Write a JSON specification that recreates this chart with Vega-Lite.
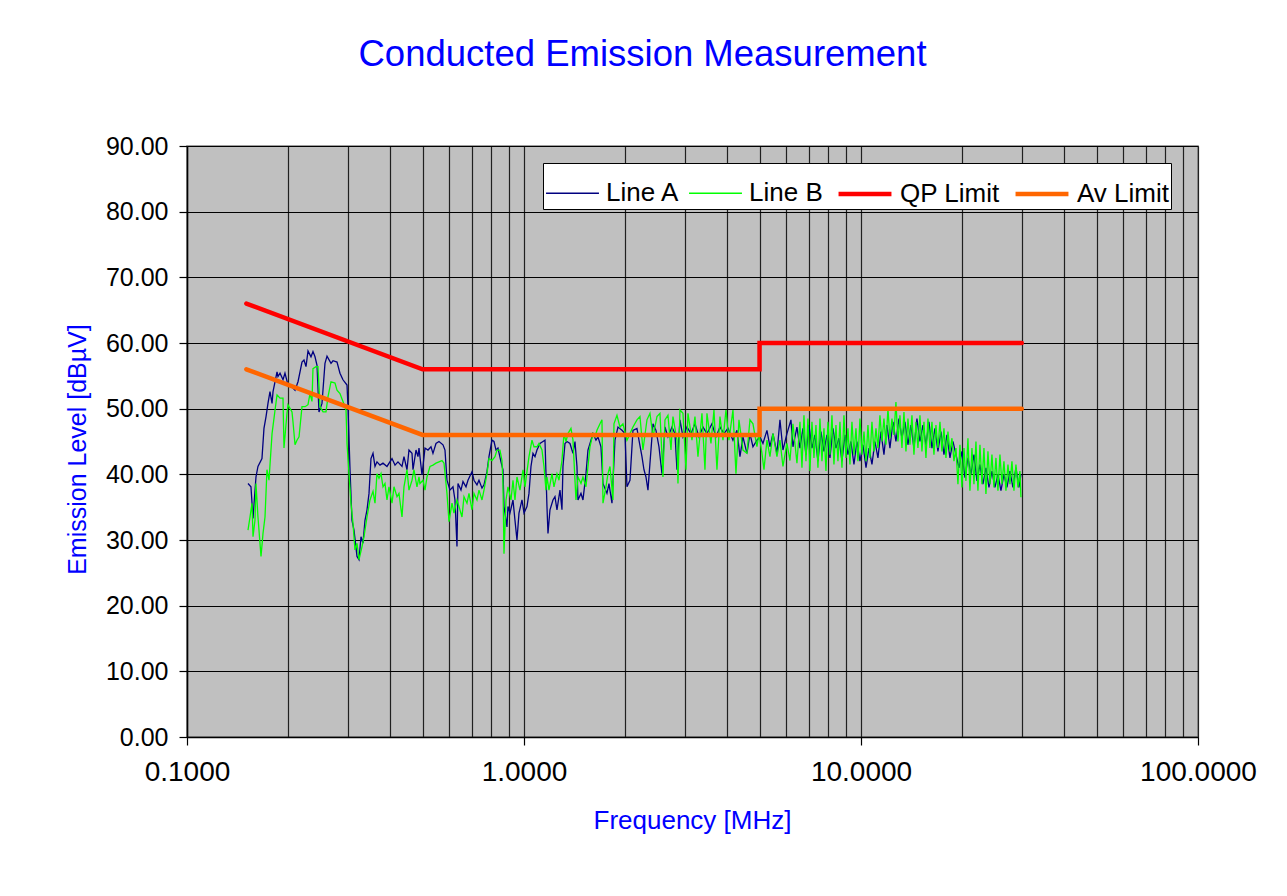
{
  "$schema": "https://vega.github.io/schema/vega-lite/v6.json",
  "autosize": {"type": "none"},
  "width": 1011,
  "height": 591,
  "padding": {"left": 187, "top": 146, "right": 89, "bottom": 159},
  "background": "white",
  "title": {"text": "Conducted Emission Measurement", "anchor": "middle", "dx": -50, "offset": 61, "fontSize": 36.5, "color": "#0000FF", "fontWeight": "normal", "font": "Liberation Sans"},
  "config": {
    "font": "Liberation Sans",
    "view": {"stroke": "#808080", "strokeWidth": 1.5, "fill": "#C0C0C0"}
  },
  "datasets": {
    "meas": [
      {"series":"Line A","freq":0.1517,"level":38.6},{"series":"Line A","freq":0.1548,"level":38.1},{"series":"Line A","freq":0.1570,"level":33.3},{"series":"Line A","freq":0.1602,"level":39.6},{"series":"Line A","freq":0.1624,"level":41.2},{"series":"Line A","freq":0.1669,"level":42.4},{"series":"Line A","freq":0.1692,"level":47.0},{"series":"Line A","freq":0.1716,"level":48.8},{"series":"Line A","freq":0.1739,"level":50.8},{"series":"Line A","freq":0.1763,"level":52.6},{"series":"Line A","freq":0.1788,"level":50.8},{"series":"Line A","freq":0.1800,"level":52.6},{"series":"Line A","freq":0.1850,"level":55.6},{"series":"Line A","freq":0.1862,"level":54.9},{"series":"Line A","freq":0.1888,"level":55.4},{"series":"Line A","freq":0.1927,"level":54.4},{"series":"Line A","freq":0.1953,"level":55.4},{"series":"Line A","freq":0.1994,"level":53.6},{"series":"Line A","freq":0.2049,"level":53.3},{"series":"Line A","freq":0.2092,"level":52.8},{"series":"Line A","freq":0.2135,"level":54.1},{"series":"Line A","freq":0.2194,"level":57.1},{"series":"Line A","freq":0.2224,"level":57.4},{"series":"Line A","freq":0.2255,"level":56.4},{"series":"Line A","freq":0.2286,"level":58.8},{"series":"Line A","freq":0.2333,"level":57.9},{"series":"Line A","freq":0.2365,"level":58.7},{"series":"Line A","freq":0.2398,"level":57.9},{"series":"Line A","freq":0.2431,"level":56.6},{"series":"Line A","freq":0.2464,"level":49.5},{"series":"Line A","freq":0.2515,"level":50.8},{"series":"Line A","freq":0.2567,"level":56.9},{"series":"Line A","freq":0.2603,"level":58.0},{"series":"Line A","freq":0.2675,"level":56.9},{"series":"Line A","freq":0.2712,"level":57.3},{"series":"Line A","freq":0.2787,"level":57.1},{"series":"Line A","freq":0.2844,"level":55.4},{"series":"Line A","freq":0.2903,"level":54.4},{"series":"Line A","freq":0.2984,"level":53.6},{"series":"Line A","freq":0.3004,"level":50.3},{"series":"Line A","freq":0.3046,"level":40.7},{"series":"Line A","freq":0.3087,"level":33.0},{"series":"Line A","freq":0.3130,"level":31.5},{"series":"Line A","freq":0.3195,"level":27.5},{"series":"Line A","freq":0.3239,"level":27.0},{"series":"Line A","freq":0.3283,"level":30.5},{"series":"Line A","freq":0.3328,"level":29.5},{"series":"Line A","freq":0.3374,"level":33.0},{"series":"Line A","freq":0.3421,"level":34.6},{"series":"Line A","freq":0.3468,"level":37.1},{"series":"Line A","freq":0.3515,"level":42.4},{"series":"Line A","freq":0.3564,"level":43.2},{"series":"Line A","freq":0.3613,"level":41.2},{"series":"Line A","freq":0.3662,"level":41.9},{"series":"Line A","freq":0.3738,"level":41.4},{"series":"Line A","freq":0.3816,"level":41.7},{"series":"Line A","freq":0.3921,"level":41.2},{"series":"Line A","freq":0.4058,"level":42.4},{"series":"Line A","freq":0.4142,"level":41.4},{"series":"Line A","freq":0.4227,"level":41.9},{"series":"Line A","freq":0.4345,"level":41.2},{"series":"Line A","freq":0.4404,"level":42.7},{"series":"Line A","freq":0.4496,"level":40.7},{"series":"Line A","freq":0.4557,"level":43.7},{"series":"Line A","freq":0.4652,"level":43.2},{"series":"Line A","freq":0.4684,"level":40.7},{"series":"Line A","freq":0.4781,"level":43.7},{"series":"Line A","freq":0.4846,"level":42.7},{"series":"Line A","freq":0.4880,"level":44.0},{"series":"Line A","freq":0.4981,"level":39.9},{"series":"Line A","freq":0.5084,"level":44.0},{"series":"Line A","freq":0.5189,"level":43.7},{"series":"Line A","freq":0.5297,"level":44.2},{"series":"Line A","freq":0.5369,"level":43.2},{"series":"Line A","freq":0.5481,"level":44.7},{"series":"Line A","freq":0.5594,"level":45.0},{"series":"Line A","freq":0.5749,"level":44.5},{"series":"Line A","freq":0.5828,"level":43.7},{"series":"Line A","freq":0.5908,"level":39.1},{"series":"Line A","freq":0.6031,"level":37.6},{"series":"Line A","freq":0.6156,"level":38.1},{"series":"Line A","freq":0.6240,"level":36.1},{"series":"Line A","freq":0.6326,"level":29.0},{"series":"Line A","freq":0.6369,"level":38.6},{"series":"Line A","freq":0.6501,"level":37.6},{"series":"Line A","freq":0.6591,"level":38.9},{"series":"Line A","freq":0.6728,"level":38.1},{"series":"Line A","freq":0.6820,"level":39.1},{"series":"Line A","freq":0.7009,"level":40.4},{"series":"Line A","freq":0.7105,"level":39.1},{"series":"Line A","freq":0.7252,"level":38.4},{"series":"Line A","freq":0.7352,"level":39.1},{"series":"Line A","freq":0.7505,"level":37.9},{"series":"Line A","freq":0.7608,"level":38.4},{"series":"Line A","freq":0.7765,"level":40.4},{"series":"Line A","freq":0.7872,"level":42.7},{"series":"Line A","freq":0.8035,"level":45.2},{"series":"Line A","freq":0.8146,"level":45.0},{"series":"Line A","freq":0.8258,"level":43.7},{"series":"Line A","freq":0.8371,"level":44.0},{"series":"Line A","freq":0.8545,"level":41.9},{"series":"Line A","freq":0.8662,"level":40.7},{"series":"Line A","freq":0.8722,"level":35.1},{"series":"Line A","freq":0.8902,"level":32.0},{"series":"Line A","freq":0.8963,"level":35.1},{"series":"Line A","freq":0.9086,"level":34.1},{"series":"Line A","freq":0.9275,"level":36.1},{"series":"Line A","freq":0.9402,"level":33.0},{"series":"Line A","freq":0.9531,"level":30.0},{"series":"Line A","freq":0.9663,"level":34.1},{"series":"Line A","freq":0.9863,"level":36.1},{"series":"Line A","freq":1.0000,"level":34.1},{"series":"Line A","freq":1.0205,"level":35.1},{"series":"Line A","freq":1.0346,"level":37.1},{"series":"Line A","freq":1.0488,"level":41.2},{"series":"Line A","freq":1.0633,"level":43.2},{"series":"Line A","freq":1.0779,"level":42.7},{"series":"Line A","freq":1.0927,"level":43.7},{"series":"Line A","freq":1.1153,"level":44.7},{"series":"Line A","freq":1.1384,"level":45.0},{"series":"Line A","freq":1.1541,"level":45.2},{"series":"Line A","freq":1.1699,"level":35.1},{"series":"Line A","freq":1.1780,"level":31.0},{"series":"Line A","freq":1.1942,"level":34.6},{"series":"Line A","freq":1.2189,"level":36.1},{"series":"Line A","freq":1.2357,"level":36.6},{"series":"Line A","freq":1.2527,"level":34.6},{"series":"Line A","freq":1.2786,"level":37.6},{"series":"Line A","freq":1.2962,"level":34.6},{"series":"Line A","freq":1.3051,"level":41.2},{"series":"Line A","freq":1.3231,"level":44.7},{"series":"Line A","freq":1.3412,"level":45.0},{"series":"Line A","freq":1.3690,"level":44.7},{"series":"Line A","freq":1.3974,"level":43.2},{"series":"Line A","freq":1.4167,"level":45.0},{"series":"Line A","freq":1.4361,"level":41.2},{"series":"Line A","freq":1.4459,"level":36.1},{"series":"Line A","freq":1.4759,"level":37.1},{"series":"Line A","freq":1.4962,"level":36.1},{"series":"Line A","freq":1.5273,"level":40.1},{"series":"Line A","freq":1.5482,"level":43.7},{"series":"Line A","freq":1.5803,"level":45.2},{"series":"Line A","freq":1.6020,"level":46.2},{"series":"Line A","freq":1.6352,"level":45.2},{"series":"Line A","freq":1.6576,"level":45.7},{"series":"Line A","freq":1.6920,"level":44.2},{"series":"Line A","freq":1.7153,"level":38.6},{"series":"Line A","freq":1.7628,"level":37.1},{"series":"Line A","freq":1.7870,"level":38.6},{"series":"Line A","freq":1.8241,"level":35.6},{"series":"Line A","freq":1.8619,"level":45.2},{"series":"Line A","freq":1.9003,"level":47.2},{"series":"Line A","freq":1.9530,"level":46.7},{"series":"Line A","freq":1.9935,"level":46.2},{"series":"Line A","freq":2.0209,"level":38.1},{"series":"Line A","freq":2.0627,"level":39.1},{"series":"Line A","freq":2.1054,"level":46.7},{"series":"Line A","freq":2.1637,"level":47.0},{"series":"Line A","freq":2.1935,"level":45.2},{"series":"Line A","freq":2.2390,"level":42.7},{"series":"Line A","freq":2.2698,"level":40.7},{"series":"Line A","freq":2.3011,"level":39.6},{"series":"Line A","freq":2.3326,"level":37.6},{"series":"Line A","freq":2.3648,"level":41.7},{"series":"Line A","freq":2.4138,"level":47.7},{"series":"Line A","freq":2.4638,"level":46.7},{"series":"Line A","freq":2.5147,"level":44.2},{"series":"Line A","freq":2.5668,"level":40.1},{"series":"Line A","freq":2.6200,"level":47.2},{"series":"Line A","freq":2.6742,"level":45.7},{"series":"Line A","freq":2.7483,"level":47.2},{"series":"Line A","freq":2.8053,"level":46.2},{"series":"Line A","freq":2.8438,"level":40.7},{"series":"Line A","freq":2.9027,"level":48.3},{"series":"Line A","freq":2.9628,"level":45.7},{"series":"Line A","freq":3.0448,"level":47.2},{"series":"Line A","freq":3.1293,"level":46.2},{"series":"Line A","freq":3.2160,"level":47.7},{"series":"Line A","freq":3.3050,"level":45.7},{"series":"Line A","freq":3.3967,"level":47.2},{"series":"Line A","freq":3.4906,"level":46.2},{"series":"Line A","freq":3.6120,"level":47.7},{"series":"Line A","freq":3.7122,"level":45.7},{"series":"Line A","freq":3.8149,"level":47.2},{"series":"Line A","freq":3.9207,"level":46.2},{"series":"Line A","freq":4.0292,"level":47.0},{"series":"Line A","freq":4.1693,"level":45.2},{"series":"Line A","freq":4.2847,"level":46.7},{"series":"Line A","freq":4.3735,"level":42.7},{"series":"Line A","freq":4.4641,"level":45.7},{"series":"Line A","freq":4.5877,"level":43.2},{"series":"Line A","freq":4.6828,"level":46.2},{"series":"Line A","freq":4.7798,"level":44.2},{"series":"Line A","freq":4.9120,"level":45.2},{"series":"Line A","freq":5.0139,"level":45.7},{"series":"Line A","freq":5.1177,"level":44.7},{"series":"Line A","freq":5.2594,"level":46.7},{"series":"Line A","freq":5.3684,"level":44.2},{"series":"Line A","freq":5.4796,"level":46.2},{"series":"Line A","freq":5.6312,"level":43.2},{"series":"Line A","freq":5.7480,"level":48.3},{"series":"Line A","freq":5.8671,"level":43.7},{"series":"Line A","freq":6.0294,"level":46.2},{"series":"Line A","freq":6.1966,"level":48.3},{"series":"Line A","freq":6.2819,"level":44.2},{"series":"Line A","freq":6.4557,"level":47.2},
      {"series":"Line A","freq":6.5896,"level":44},{"series":"Line A","freq":6.7261,"level":47},{"series":"Line A","freq":6.8656,"level":43},{"series":"Line A","freq":7.0074,"level":47.5},{"series":"Line A","freq":7.1526,"level":44},{"series":"Line A","freq":7.3009,"level":46},{"series":"Line A","freq":7.4517,"level":42},{"series":"Line A","freq":7.6062,"level":46.5},{"series":"Line A","freq":7.7639,"level":43.5},{"series":"Line A","freq":7.9243,"level":46},{"series":"Line A","freq":8.0885,"level":42.5},{"series":"Line A","freq":8.2561,"level":47},{"series":"Line A","freq":8.4273,"level":44},{"series":"Line A","freq":8.6014,"level":45.5},{"series":"Line A","freq":8.7797,"level":42},{"series":"Line A","freq":8.9617,"level":46},{"series":"Line A","freq":9.1468,"level":43},{"series":"Line A","freq":9.3364,"level":45},{"series":"Line A","freq":9.5299,"level":41.5},{"series":"Line A","freq":9.7269,"level":45},{"series":"Line A","freq":9.9285,"level":42},{"series":"Line A","freq":10.138,"level":44.5},{"series":"Line A","freq":10.348,"level":41},{"series":"Line A","freq":10.558,"level":44},{"series":"Line A","freq":10.777,"level":41.5},{"series":"Line A","freq":11.000,"level":45},{"series":"Line A","freq":11.227,"level":42.5},{"series":"Line A","freq":11.460,"level":46.5},{"series":"Line A","freq":11.698,"level":43},{"series":"Line A","freq":11.939,"level":47.5},{"series":"Line A","freq":12.187,"level":44},{"series":"Line A","freq":12.439,"level":48},{"series":"Line A","freq":12.697,"level":45},{"series":"Line A","freq":12.960,"level":48.5},{"series":"Line A","freq":13.229,"level":45.5},{"series":"Line A","freq":13.503,"level":48},{"series":"Line A","freq":13.782,"level":44.5},{"series":"Line A","freq":14.068,"level":47.5},{"series":"Line A","freq":14.359,"level":44},{"series":"Line A","freq":14.656,"level":48.5},{"series":"Line A","freq":14.960,"level":45},{"series":"Line A","freq":15.270,"level":47.5},{"series":"Line A","freq":15.586,"level":44.5},{"series":"Line A","freq":15.908,"level":48},{"series":"Line A","freq":16.238,"level":44},{"series":"Line A","freq":16.574,"level":47},{"series":"Line A","freq":16.917,"level":43.5},{"series":"Line A","freq":17.268,"level":46.5},{"series":"Line A","freq":17.626,"level":43},{"series":"Line A","freq":17.990,"level":46},{"series":"Line A","freq":18.363,"level":42.5},{"series":"Line A","freq":18.743,"level":45},{"series":"Line A","freq":19.132,"level":43},{"series":"Line A","freq":19.527,"level":41},{"series":"Line A","freq":19.932,"level":43.5},{"series":"Line A","freq":20.345,"level":39.5},{"series":"Line A","freq":20.765,"level":42.5},{"series":"Line A","freq":21.196,"level":40},{"series":"Line A","freq":21.635,"level":43},{"series":"Line A","freq":22.082,"level":39},{"series":"Line A","freq":22.540,"level":41.5},{"series":"Line A","freq":23.007,"level":38.5},{"series":"Line A","freq":23.483,"level":41},{"series":"Line A","freq":23.970,"level":38},{"series":"Line A","freq":24.466,"level":40.5},{"series":"Line A","freq":24.973,"level":38},{"series":"Line A","freq":25.490,"level":40},{"series":"Line A","freq":26.018,"level":37.5},{"series":"Line A","freq":26.557,"level":40},{"series":"Line A","freq":27.106,"level":38},{"series":"Line A","freq":27.668,"level":40.5},{"series":"Line A","freq":28.241,"level":38},{"series":"Line A","freq":28.826,"level":41},{"series":"Line A","freq":29.422,"level":38},{"series":"Line A","freq":29.827,"level":40},
      {"series":"Line B","freq":0.1517,"level":31.5},{"series":"Line B","freq":0.1538,"level":33.5},{"series":"Line B","freq":0.1559,"level":35.6},{"series":"Line B","freq":0.1570,"level":30.5},{"series":"Line B","freq":0.1591,"level":33.0},{"series":"Line B","freq":0.1602,"level":38.6},{"series":"Line B","freq":0.1624,"level":33.5},{"series":"Line B","freq":0.1658,"level":27.5},{"series":"Line B","freq":0.1681,"level":31.0},{"series":"Line B","freq":0.1704,"level":33.5},{"series":"Line B","freq":0.1727,"level":40.7},{"series":"Line B","freq":0.1751,"level":39.1},{"series":"Line B","freq":0.1788,"level":46.2},{"series":"Line B","freq":0.1825,"level":49.8},{"series":"Line B","freq":0.1850,"level":52.1},{"series":"Line B","freq":0.1888,"level":51.6},{"series":"Line B","freq":0.1927,"level":51.6},{"series":"Line B","freq":0.1940,"level":44.0},{"series":"Line B","freq":0.1980,"level":49.3},{"series":"Line B","freq":0.1994,"level":50.6},{"series":"Line B","freq":0.2049,"level":49.5},{"series":"Line B","freq":0.2063,"level":48.0},{"series":"Line B","freq":0.2092,"level":44.5},{"series":"Line B","freq":0.2120,"level":45.2},{"series":"Line B","freq":0.2150,"level":45.7},{"series":"Line B","freq":0.2194,"level":50.3},{"series":"Line B","freq":0.2240,"level":50.3},{"series":"Line B","freq":0.2286,"level":50.6},{"series":"Line B","freq":0.2317,"level":52.3},{"series":"Line B","freq":0.2349,"level":51.1},{"series":"Line B","freq":0.2365,"level":56.1},{"series":"Line B","freq":0.2414,"level":56.4},{"series":"Line B","freq":0.2447,"level":56.4},{"series":"Line B","freq":0.2481,"level":50.3},{"series":"Line B","freq":0.2533,"level":49.5},{"series":"Line B","freq":0.2585,"level":49.5},{"series":"Line B","freq":0.2620,"level":51.8},{"series":"Line B","freq":0.2675,"level":54.1},{"series":"Line B","freq":0.2749,"level":53.9},{"series":"Line B","freq":0.2787,"level":52.8},{"series":"Line B","freq":0.2844,"level":52.3},{"series":"Line B","freq":0.2903,"level":51.1},{"series":"Line B","freq":0.2964,"level":49.8},{"series":"Line B","freq":0.2984,"level":44.7},{"series":"Line B","freq":0.3025,"level":40.1},{"series":"Line B","freq":0.3066,"level":35.6},{"series":"Line B","freq":0.3109,"level":32.5},{"series":"Line B","freq":0.3151,"level":28.5},{"series":"Line B","freq":0.3195,"level":29.5},{"series":"Line B","freq":0.3239,"level":27.0},{"series":"Line B","freq":0.3306,"level":29.0},{"series":"Line B","freq":0.3351,"level":30.5},{"series":"Line B","freq":0.3421,"level":33.5},{"series":"Line B","freq":0.3491,"level":36.1},{"series":"Line B","freq":0.3564,"level":37.4},{"series":"Line B","freq":0.3613,"level":35.6},{"series":"Line B","freq":0.3662,"level":40.1},{"series":"Line B","freq":0.3713,"level":39.4},{"series":"Line B","freq":0.3764,"level":40.1},{"series":"Line B","freq":0.3816,"level":38.1},{"series":"Line B","freq":0.3868,"level":38.6},{"series":"Line B","freq":0.3921,"level":36.1},{"series":"Line B","freq":0.3975,"level":38.1},{"series":"Line B","freq":0.4058,"level":35.6},{"series":"Line B","freq":0.4113,"level":38.1},{"series":"Line B","freq":0.4199,"level":36.6},{"series":"Line B","freq":0.4256,"level":37.1},{"series":"Line B","freq":0.4345,"level":33.5},{"series":"Line B","freq":0.4404,"level":38.1},{"series":"Line B","freq":0.4496,"level":40.7},{"series":"Line B","freq":0.4557,"level":37.6},{"series":"Line B","freq":0.4652,"level":39.1},{"series":"Line B","freq":0.4716,"level":40.7},{"series":"Line B","freq":0.4813,"level":38.1},{"series":"Line B","freq":0.4880,"level":39.6},{"series":"Line B","freq":0.4913,"level":38.6},{"series":"Line B","freq":0.5015,"level":39.1},{"series":"Line B","freq":0.5084,"level":37.6},{"series":"Line B","freq":0.5154,"level":39.6},{"series":"Line B","freq":0.5260,"level":41.2},{"series":"Line B","freq":0.5369,"level":41.4},{"series":"Line B","freq":0.5481,"level":41.7},{"series":"Line B","freq":0.5594,"level":41.9},{"series":"Line B","freq":0.5710,"level":42.1},{"series":"Line B","freq":0.5789,"level":41.7},{"series":"Line B","freq":0.5908,"level":37.1},{"series":"Line B","freq":0.5990,"level":32.8},{"series":"Line B","freq":0.6114,"level":35.6},{"series":"Line B","freq":0.6198,"level":34.1},{"series":"Line B","freq":0.6326,"level":36.1},{"series":"Line B","freq":0.6413,"level":35.1},{"series":"Line B","freq":0.6546,"level":33.5},{"series":"Line B","freq":0.6636,"level":36.6},{"series":"Line B","freq":0.6773,"level":35.6},{"series":"Line B","freq":0.6867,"level":37.1},{"series":"Line B","freq":0.7009,"level":34.6},{"series":"Line B","freq":0.7105,"level":37.1},{"series":"Line B","freq":0.7252,"level":36.1},{"series":"Line B","freq":0.7352,"level":37.6},{"series":"Line B","freq":0.7505,"level":36.1},{"series":"Line B","freq":0.7608,"level":37.6},{"series":"Line B","freq":0.7765,"level":40.1},{"series":"Line B","freq":0.7872,"level":42.4},{"series":"Line B","freq":0.8035,"level":42.1},{"series":"Line B","freq":0.8202,"level":42.7},{"series":"Line B","freq":0.8314,"level":43.7},{"series":"Line B","freq":0.8486,"level":43.7},{"series":"Line B","freq":0.8603,"level":42.1},{"series":"Line B","freq":0.8662,"level":38.6},{"series":"Line B","freq":0.8722,"level":27.9},{"series":"Line B","freq":0.8842,"level":36.1},{"series":"Line B","freq":0.8963,"level":38.1},{"series":"Line B","freq":0.9149,"level":36.1},{"series":"Line B","freq":0.9275,"level":39.1},{"series":"Line B","freq":0.9402,"level":36.1},{"series":"Line B","freq":0.9531,"level":39.6},{"series":"Line B","freq":0.9729,"level":37.6},{"series":"Line B","freq":0.9931,"level":40.7},{"series":"Line B","freq":1.0069,"level":38.1},{"series":"Line B","freq":1.0205,"level":40.4},{"series":"Line B","freq":1.0346,"level":42.7},{"series":"Line B","freq":1.0560,"level":45.2},{"series":"Line B","freq":1.0706,"level":44.2},{"series":"Line B","freq":1.0927,"level":44.2},{"series":"Line B","freq":1.1077,"level":44.7},{"series":"Line B","freq":1.1307,"level":43.7},{"series":"Line B","freq":1.1463,"level":41.2},{"series":"Line B","freq":1.1621,"level":37.6},{"series":"Line B","freq":1.1699,"level":39.6},{"series":"Line B","freq":1.1861,"level":37.6},{"series":"Line B","freq":1.2106,"level":40.1},{"series":"Line B","freq":1.2273,"level":38.1},{"series":"Line B","freq":1.2527,"level":40.1},{"series":"Line B","freq":1.2699,"level":39.1},{"series":"Line B","freq":1.2962,"level":42.1},{"series":"Line B","freq":1.3141,"level":46.2},{"series":"Line B","freq":1.3322,"level":45.0},{"series":"Line B","freq":1.3504,"level":46.2},{"series":"Line B","freq":1.3784,"level":47.0},{"series":"Line B","freq":1.3974,"level":45.2},{"series":"Line B","freq":1.4264,"level":36.1},{"series":"Line B","freq":1.4459,"level":39.6},{"series":"Line B","freq":1.4759,"level":38.6},{"series":"Line B","freq":1.4962,"level":39.6},{"series":"Line B","freq":1.5273,"level":38.1},{"series":"Line B","freq":1.5482,"level":41.2},{"series":"Line B","freq":1.5695,"level":44.2},{"series":"Line B","freq":1.6020,"level":46.2},{"series":"Line B","freq":1.6241,"level":45.7},{"series":"Line B","freq":1.6463,"level":46.7},{"series":"Line B","freq":1.6805,"level":47.7},{"series":"Line B","freq":1.7036,"level":48.3},{"series":"Line B","freq":1.7153,"level":35.6},{"series":"Line B","freq":1.7509,"level":38.1},{"series":"Line B","freq":1.7748,"level":40.1},{"series":"Line B","freq":1.7993,"level":41.2},{"series":"Line B","freq":1.8366,"level":36.1},{"series":"Line B","freq":1.8492,"level":47.7},{"series":"Line B","freq":1.8874,"level":49.0},{"series":"Line B","freq":1.9265,"level":47.2},{"series":"Line B","freq":1.9665,"level":47.7},{"series":"Line B","freq":2.0209,"level":45.2},{"series":"Line B","freq":2.0627,"level":46.2},{"series":"Line B","freq":2.1054,"level":47.2},{"series":"Line B","freq":2.1637,"level":48.3},{"series":"Line B","freq":2.2086,"level":48.8},{"series":"Line B","freq":2.2544,"level":43.7},{"series":"Line B","freq":2.3167,"level":48.3},{"series":"Line B","freq":2.3648,"level":49.3},{"series":"Line B","freq":2.4138,"level":45.7},{"series":"Line B","freq":2.4806,"level":48.8},{"series":"Line B","freq":2.5320,"level":49.3},{"series":"Line B","freq":2.5844,"level":39.6},{"series":"Line B","freq":2.6200,"level":48.3},{"series":"Line B","freq":2.6742,"level":49.0},{"series":"Line B","freq":2.7296,"level":43.7},{"series":"Line B","freq":2.7672,"level":48.8},{"series":"Line B","freq":2.8438,"level":45.2},{"series":"Line B","freq":2.8633,"level":38.6},{"series":"Line B","freq":2.9027,"level":49.8},{"series":"Line B","freq":2.9628,"level":49.3},{"series":"Line B","freq":3.0243,"level":40.7},{"series":"Line B","freq":3.0657,"level":49.3},{"series":"Line B","freq":3.1507,"level":45.2},{"series":"Line B","freq":3.2160,"level":48.8},{"series":"Line B","freq":3.2825,"level":42.7},{"series":"Line B","freq":3.3735,"level":49.3},{"series":"Line B","freq":3.4434,"level":40.7},{"series":"Line B","freq":3.4906,"level":49.3},{"series":"Line B","freq":3.5874,"level":44.7},{"series":"Line B","freq":3.6618,"level":49.8},{"series":"Line B","freq":3.7375,"level":40.7},{"series":"Line B","freq":3.8149,"level":48.8},{"series":"Line B","freq":3.8940,"level":45.2},{"series":"Line B","freq":3.9747,"level":49.8},{"series":"Line B","freq":4.0568,"level":45.2},{"series":"Line B","freq":4.1693,"level":49.8},{"series":"Line B","freq":4.2558,"level":40.1},{"series":"Line B","freq":4.3437,"level":48.3},{"series":"Line B","freq":4.4641,"level":43.7},{"series":"Line B","freq":4.5877,"level":43.2},{"series":"Line B","freq":4.6828,"level":48.3},{"series":"Line B","freq":4.7798,"level":47.7},{"series":"Line B","freq":4.9120,"level":44.2},{"series":"Line B","freq":4.9797,"level":46.2},{"series":"Line B","freq":5.0829,"level":43.2},{"series":"Line B","freq":5.1529,"level":40.7},{"series":"Line B","freq":5.2594,"level":45.2},{"series":"Line B","freq":5.3684,"level":42.7},{"series":"Line B","freq":5.4796,"level":46.2},{"series":"Line B","freq":5.6312,"level":42.7},{"series":"Line B","freq":5.7480,"level":45.2},{"series":"Line B","freq":5.8671,"level":41.2},{"series":"Line B","freq":6.0294,"level":44.7},{"series":"Line B","freq":6.1544,"level":42.1},{"series":"Line B","freq":6.2819,"level":47.7},{"series":"Line B","freq":6.4557,"level":41.7},
      {"series":"Line B","freq":6.5896,"level":48},{"series":"Line B","freq":6.6803,"level":41},{"series":"Line B","freq":6.7723,"level":49},{"series":"Line B","freq":6.8656,"level":42},{"series":"Line B","freq":6.9596,"level":48.5},{"series":"Line B","freq":7.0555,"level":40.5},{"series":"Line B","freq":7.1526,"level":48},{"series":"Line B","freq":7.2511,"level":42.5},{"series":"Line B","freq":7.3510,"level":47.5},{"series":"Line B","freq":7.4517,"level":41},{"series":"Line B","freq":7.5544,"level":48.5},{"series":"Line B","freq":7.6584,"level":42},{"series":"Line B","freq":7.7639,"level":47},{"series":"Line B","freq":7.8708,"level":40.5},{"series":"Line B","freq":7.9786,"level":48},{"series":"Line B","freq":8.0885,"level":43},{"series":"Line B","freq":8.1999,"level":49},{"series":"Line B","freq":8.3128,"level":41.5},{"series":"Line B","freq":8.4273,"level":47.5},{"series":"Line B","freq":8.5428,"level":42},{"series":"Line B","freq":8.6605,"level":48},{"series":"Line B","freq":8.7797,"level":41},{"series":"Line B","freq":8.9005,"level":49},{"series":"Line B","freq":9.0231,"level":42.5},{"series":"Line B","freq":9.1468,"level":47},{"series":"Line B","freq":9.2728,"level":41.5},{"series":"Line B","freq":9.4005,"level":48},{"series":"Line B","freq":9.5299,"level":43},{"series":"Line B","freq":9.6612,"level":47},{"series":"Line B","freq":9.7936,"level":42},{"series":"Line B","freq":9.9285,"level":48.5},{"series":"Line B","freq":10.069,"level":43},{"series":"Line B","freq":10.207,"level":46.5},{"series":"Line B","freq":10.348,"level":42},{"series":"Line B","freq":10.486,"level":47.5},{"series":"Line B","freq":10.630,"level":42.5},{"series":"Line B","freq":10.777,"level":48},{"series":"Line B","freq":10.925,"level":43.5},{"series":"Line B","freq":11.076,"level":47},{"series":"Line B","freq":11.227,"level":44},{"series":"Line B","freq":11.382,"level":49},{"series":"Line B","freq":11.539,"level":45},{"series":"Line B","freq":11.698,"level":48.5},{"series":"Line B","freq":11.859,"level":44.5},{"series":"Line B","freq":12.021,"level":50},{"series":"Line B","freq":12.187,"level":45.5},{"series":"Line B","freq":12.354,"level":48.5},{"series":"Line B","freq":12.524,"level":46},{"series":"Line B","freq":12.697,"level":51},{"series":"Line B","freq":12.872,"level":45},{"series":"Line B","freq":13.049,"level":49},{"series":"Line B","freq":13.229,"level":44},{"series":"Line B","freq":13.411,"level":49.5},{"series":"Line B","freq":13.596,"level":43.5},{"series":"Line B","freq":13.782,"level":48.5},{"series":"Line B","freq":13.972,"level":44.5},{"series":"Line B","freq":14.164,"level":49},{"series":"Line B","freq":14.359,"level":43},{"series":"Line B","freq":14.557,"level":48},{"series":"Line B","freq":14.757,"level":44},{"series":"Line B","freq":14.960,"level":49},{"series":"Line B","freq":15.166,"level":43.5},{"series":"Line B","freq":15.375,"level":48},{"series":"Line B","freq":15.586,"level":42.5},{"series":"Line B","freq":15.800,"level":48.5},{"series":"Line B","freq":16.017,"level":44},{"series":"Line B","freq":16.238,"level":48},{"series":"Line B","freq":16.461,"level":43},{"series":"Line B","freq":16.688,"level":47.5},{"series":"Line B","freq":16.917,"level":44},{"series":"Line B","freq":17.150,"level":48},{"series":"Line B","freq":17.386,"level":43.5},{"series":"Line B","freq":17.626,"level":47},{"series":"Line B","freq":17.868,"level":42.5},{"series":"Line B","freq":18.113,"level":46.5},{"series":"Line B","freq":18.363,"level":43.5},{"series":"Line B","freq":18.616,"level":45.5},{"series":"Line B","freq":18.872,"level":42},{"series":"Line B","freq":19.132,"level":44},{"series":"Line B","freq":19.394,"level":38.5},{"series":"Line B","freq":19.661,"level":44.5},{"series":"Line B","freq":19.932,"level":38},{"series":"Line B","freq":20.206,"level":44},{"series":"Line B","freq":20.485,"level":39},{"series":"Line B","freq":20.765,"level":45.5},{"series":"Line B","freq":21.052,"level":37.5},{"series":"Line B","freq":21.341,"level":44},{"series":"Line B","freq":21.635,"level":38.5},{"series":"Line B","freq":21.934,"level":45},{"series":"Line B","freq":22.233,"level":37.5},{"series":"Line B","freq":22.540,"level":44.5},{"series":"Line B","freq":22.850,"level":38.5},{"series":"Line B","freq":23.165,"level":44},{"series":"Line B","freq":23.483,"level":37},{"series":"Line B","freq":23.806,"level":43.5},{"series":"Line B","freq":24.134,"level":38.5},{"series":"Line B","freq":24.466,"level":43},{"series":"Line B","freq":24.803,"level":38},{"series":"Line B","freq":25.145,"level":42.5},{"series":"Line B","freq":25.490,"level":37.5},{"series":"Line B","freq":25.840,"level":43},{"series":"Line B","freq":26.196,"level":38.5},{"series":"Line B","freq":26.557,"level":42},{"series":"Line B","freq":26.923,"level":37.5},{"series":"Line B","freq":27.292,"level":41.5},{"series":"Line B","freq":27.668,"level":38.5},{"series":"Line B","freq":28.049,"level":42},{"series":"Line B","freq":28.435,"level":37.5},{"series":"Line B","freq":28.826,"level":41.5},{"series":"Line B","freq":29.221,"level":38},{"series":"Line B","freq":29.624,"level":40.5},{"series":"Line B","freq":29.827,"level":36.5}
    ],
    "limits": [
      {"series":"QP Limit","freq":0.15,"level":66,"i":1},{"series":"QP Limit","freq":0.5,"level":56,"i":2},{"series":"QP Limit","freq":5,"level":56,"i":3},{"series":"QP Limit","freq":5,"level":60,"i":4},{"series":"QP Limit","freq":30,"level":60,"i":5},
      {"series":"Av Limit","freq":0.15,"level":56,"i":1},{"series":"Av Limit","freq":0.5,"level":46,"i":2},{"series":"Av Limit","freq":5,"level":46,"i":3},{"series":"Av Limit","freq":5,"level":50,"i":4},{"series":"Av Limit","freq":30,"level":50,"i":5}
    ]
  },
  "encoding": {
    "x": {
      "field": "freq", "type": "quantitative",
      "scale": {"type": "log", "domain": [0.1, 100], "nice": false},
      "axis": {
        "values": [0.1,0.2,0.3,0.4,0.5,0.6,0.7,0.8,0.9,1,2,3,4,5,6,7,8,9,10,20,30,40,50,60,70,80,90,100],
        "labelExpr": "(datum.value == 0.1 || datum.value == 1 || datum.value == 10 || datum.value == 100) ? format(datum.value, '.4f') : ''",
        "tickOpacity": {"condition": {"test": "datum.value == 0.1 || datum.value == 1 || datum.value == 10 || datum.value == 100", "value": 1}, "value": 0},
        "grid": true, "gridColor": "#202020", "gridWidth": 1.2, "gridOpacity": 1,
        "tickSize": 8, "tickColor": "black", "tickWidth": 1.2,
        "domainColor": "black", "domainWidth": 1.5,
        "labelFont": "Liberation Sans", "labelFontSize": 28, "labelColor": "black", "labelPadding": 13, "labelFlush": false, "labelOverlap": false,
        "title": "Frequency [MHz]", "titleColor": "#0000FF", "titleFont": "Liberation Sans", "titleFontSize": 26, "titleFontWeight": "normal",
        "titleX": 505, "titleY": 83, "titleBaseline": "middle", "titleAlign": "center"
      }
    },
    "y": {
      "field": "level", "type": "quantitative",
      "scale": {"domain": [0, 90], "nice": false},
      "axis": {
        "values": [0,10,20,30,40,50,60,70,80,90], "format": ".2f",
        "grid": true, "gridColor": "#000000", "gridWidth": 1.2, "gridOpacity": 1,
        "tickSize": 8, "tickColor": "black", "tickWidth": 1.2,
        "domainColor": "black", "domainWidth": 1.5,
        "labelFont": "Liberation Sans", "labelFontSize": 25, "labelColor": "black", "labelPadding": 11,
        "title": "Emission Level [dBµV]", "titleColor": "#0000FF", "titleFont": "Liberation Sans", "titleFontSize": 25, "titleFontWeight": "normal",
        "titleX": -110, "titleY": 303, "titleAngle": 270, "titleBaseline": "middle", "titleAlign": "center"
      }
    },
    "color": {
      "field": "series", "type": "nominal",
      "scale": {"domain": ["Line A", "Line B", "QP Limit", "Av Limit"], "range": ["#000080", "#00FF00", "#FF0000", "#FF6600"]},
      "legend": {"orient": "none", "legendX": 356, "legendY": 17, "direction": "horizontal", "title": null, "fillColor": "white", "strokeColor": "black", "padding": 2, "symbolType": "stroke", "symbolSize": 2800, "labelFont": "Liberation Sans", "labelFontSize": 26, "labelColor": "black", "labelOffset": 6, "columnPadding": 6}
    },
    "strokeWidth": {
      "field": "series", "type": "nominal",
      "scale": {"type": "ordinal", "domain": ["Line A", "Line B", "QP Limit", "Av Limit"], "range": [1.3, 1.3, 4.5, 4.5]},
      "legend": {"orient": "none", "legendX": 356, "legendY": 17, "direction": "horizontal", "title": null, "fillColor": "white", "strokeColor": "black", "padding": 2, "symbolType": "stroke", "symbolSize": 2800, "labelFont": "Liberation Sans", "labelFontSize": 26, "labelColor": "black", "labelOffset": 6, "columnPadding": 6}
    }
  },
  "layer": [
    {"data": {"name": "meas"}, "mark": {"type": "line", "clip": true}},
    {"data": {"name": "limits"}, "mark": {"type": "line", "strokeCap": "round", "strokeJoin": "miter"}, "encoding": {"order": {"field": "i", "type": "quantitative"}}}
  ]
}
